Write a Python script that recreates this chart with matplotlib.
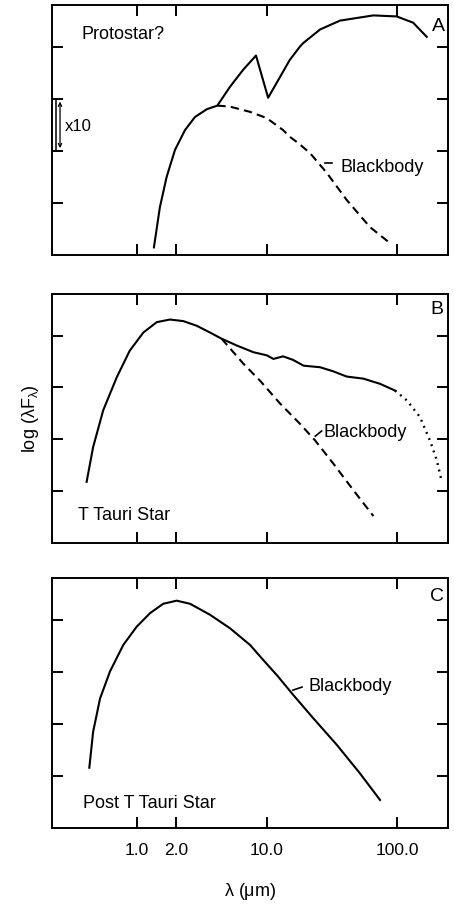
import matplotlib
matplotlib.use("Agg")
import matplotlib.pyplot as plt

plt.rcParams['font.family'] = ['Liberation Sans', 'DejaVu Sans']
plt.rcParams['mathtext.default'] = 'regular'

# panel A: protostar
a_lam = [1.35, 1.50, 1.69, 1.96, 2.34, 2.79, 3.44, 4.15, 5.19, 6.57, 8.23, 10.2,
         12.6, 15.0, 17.9, 19.0, 25.6, 36.4, 65.8, 99.5, 133, 169]
a_flux = [0.15, 0.92, 1.50, 2.02, 2.40, 2.65, 2.80, 2.87, 3.23, 3.56, 3.83, 3.02,
          3.42, 3.75, 4.00, 4.07, 4.33, 4.50, 4.60, 4.58, 4.46, 4.19]
a_bb_lam = [4.15, 5.19, 7.4, 9.95, 13.3, 15.0, 17.4, 21.4, 28.8, 41.0, 61.9, 88.4]
a_bb_flux = [2.87, 2.85, 2.75, 2.63, 2.40, 2.27, 2.15, 1.96, 1.58, 1.06, 0.54, 0.23]

# panel B: T Tauri star
b_lam = [0.41, 0.46, 0.55, 0.70, 0.88, 1.12, 1.42, 1.79, 2.27, 2.88, 3.64, 4.48,
         5.84, 7.85, 8.84, 9.95, 11.2, 13.3, 15.9, 19.1, 25.6, 32.4, 41.0, 55.1, 74, 96.5]
b_flux = [1.18, 1.85, 2.56, 3.20, 3.71, 4.06, 4.26, 4.31, 4.28, 4.19, 4.06, 3.94,
          3.81, 3.68, 3.65, 3.62, 3.55, 3.60, 3.53, 3.42, 3.39, 3.31, 3.21, 3.17, 3.07, 2.94]
b_dot_lam = [96.5, 119, 150, 179, 202, 221]
b_dot_flux = [2.94, 2.75, 2.43, 1.98, 1.60, 1.18]
b_bb_lam = [4.48, 6.57, 8.84, 12.6, 17.9, 23.4, 32.4, 46.1, 65.8]
b_bb_flux = [3.94, 3.46, 3.13, 2.69, 2.30, 1.98, 1.53, 1.02, 0.52]

# panel C: post T Tauri star
c_lam = [0.43, 0.46, 0.52, 0.62, 0.785, 0.995, 1.26, 1.59, 2.02, 2.56, 3.64, 5.19,
         7.4, 8.84, 10.5, 11.9, 15.9, 22.7, 34.4, 51.9, 74]
c_flux = [1.16, 1.85, 2.49, 3.01, 3.52, 3.87, 4.13, 4.31, 4.37, 4.31, 4.10, 3.84,
          3.52, 3.30, 3.09, 2.94, 2.56, 2.11, 1.60, 1.05, 0.54]

xticks = [1.0, 2.0, 10.0, 100.0]
xticklabels = ['1.0', '2.0', '10.0', '100.0']
yticks = [1.0, 2.0, 3.0, 4.0]

fig = plt.figure(figsize=(4.54, 9.05), dpi=100)
axA = fig.add_axes([0.1145, 0.718, 0.872, 0.2765])
axB = fig.add_axes([0.1145, 0.400, 0.872, 0.275])
axC = fig.add_axes([0.1145, 0.085, 0.872, 0.276])

for ax in (axA, axB, axC):
    ax.set_xscale('log')
    ax.set_xlim(0.222, 246)
    ax.set_ylim(0, 4.8)
    ax.set_xticks(xticks)
    ax.set_xticks([], minor=True)
    ax.set_yticks(yticks)
    ax.tick_params(which='both', direction='in', top=True, right=True,
                   length=8, width=1.4, labelleft=False, labelbottom=False)
    for s in ax.spines.values():
        s.set_linewidth(1.4)

lw = 1.5
fs = 13
dash = (4, 2.5)

axA.plot(a_lam, a_flux, 'k-', lw=lw)
axA.plot(a_bb_lam, a_bb_flux, 'k--', lw=lw, dashes=dash)
axA.text(0.377, 4.23, 'Protostar?', fontsize=fs, va='center')
axA.text(207, 4.38, 'A', fontsize=14, ha='center', va='center')
axA.text(36.5, 1.69, 'Blackbody', fontsize=fs, va='center')
axA.plot([27.9, 31.6], [1.77, 1.77], 'k-', lw=1.2)
axA.annotate('', xy=(0.256, 3.0), xytext=(0.256, 2.0),
             arrowprops=dict(arrowstyle='<->', lw=0.9, mutation_scale=6))
axA.plot([0.238, 0.238], [2.0, 3.0], 'k-', lw=1.1)
axA.text(0.279, 2.46, 'x10', fontsize=12, va='center')

axB.plot(b_lam, b_flux, 'k-', lw=lw)
axB.plot(b_dot_lam, b_dot_flux, 'k:', lw=1.7, dashes=(0.8, 2.0))
axB.plot(b_bb_lam, b_bb_flux, 'k--', lw=lw, dashes=dash)
axB.text(0.352, 0.54, 'T Tauri Star', fontsize=fs, va='center')
axB.text(203, 4.5, 'B', fontsize=14, ha='center', va='center')
axB.text(27.0, 2.13, 'Blackbody', fontsize=fs, va='center')
axB.plot([23.5, 26.3], [2.06, 2.16], 'k-', lw=1.2)
axB.set_ylabel(r'log ($\lambda$F$_\lambda$)', fontsize=fs, labelpad=8)

axC.plot(c_lam, c_flux, 'k-', lw=lw)
axC.text(0.384, 0.48, 'Post T Tauri Star', fontsize=fs, va='center')
axC.text(202, 4.45, 'C', fontsize=14, ha='center', va='center')
axC.text(20.8, 2.72, 'Blackbody', fontsize=fs, va='center')
axC.plot([15.8, 18.6], [2.65, 2.71], 'k-', lw=1.2)
axC.tick_params(labelbottom=True, labelsize=12.5, pad=11)
axC.set_xticklabels(xticklabels)
axC.set_xlabel(r'$\lambda$ ($\mu$m)', fontsize=fs, labelpad=16)

fig.savefig('out.png', dpi=100)
